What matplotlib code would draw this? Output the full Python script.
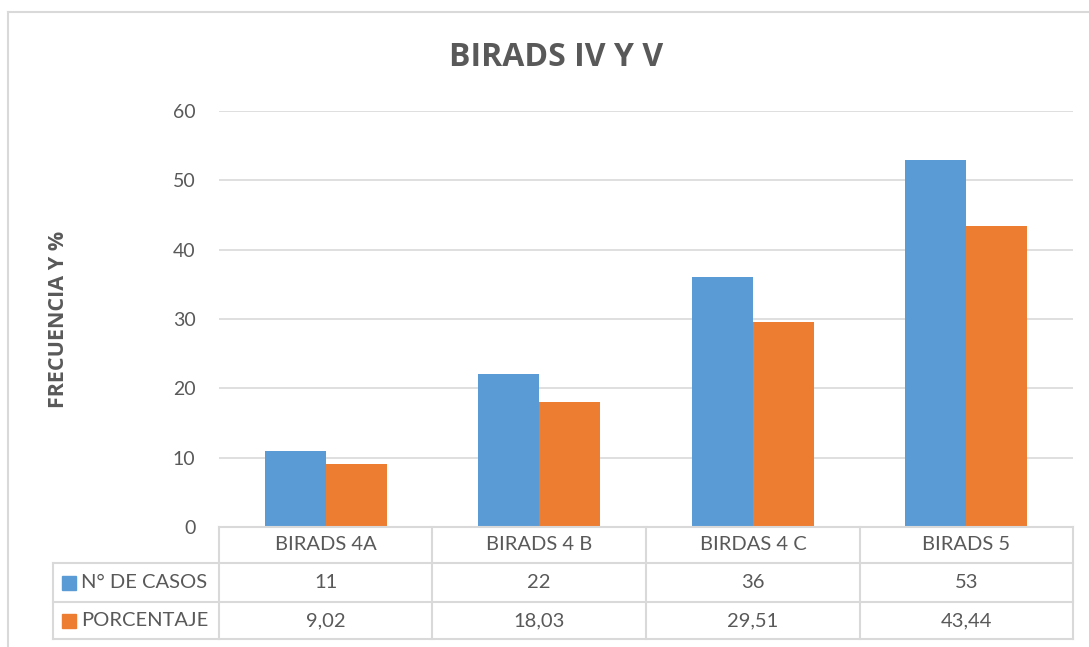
import matplotlib
matplotlib.use('Agg')
import matplotlib.pyplot as plt
from matplotlib.lines import Line2D
from matplotlib.patches import Rectangle
import numpy as np

plt.rcParams['font.family'] = ['Lato', 'DejaVu Sans']

categorias = ['BIRADS 4A', 'BIRADS 4 B', 'BIRDAS 4 C', 'BIRADS 5']
series = ['N° DE CASOS', 'PORCENTAJE']
casos = [11, 22, 36, 53]
porcentaje = [9.02, 18.03, 29.51, 43.44]
etiquetas_casos = ['11', '22', '36', '53']
etiquetas_porc = ['9,02', '18,03', '29,51', '43,44']
colores = ['#5B9BD5', '#ED7D31']
gris = '#595959'
linea = '#D9D9D9'

W, H = 1089, 647
fig = plt.figure(figsize=(W / 100, H / 100), dpi=100)
ax = fig.add_axes([219 / W, 1 - 527 / H, (1073 - 219) / W, (527 - 111) / H])

x = np.arange(len(categorias))
ancho = 0.286
ax.bar(x - ancho / 2, casos, ancho, color=colores[0], zorder=3)
ax.bar(x + ancho / 2, porcentaje, ancho, color=colores[1], zorder=3)

ax.set_xlim(-0.5, len(categorias) - 0.5)
ax.set_ylim(0, 60)
ax.set_yticks(range(0, 61, 10))
ax.yaxis.grid(True, color=linea, linewidth=1.2, zorder=0)
ax.tick_params(axis='y', length=0, pad=17, labelsize=14, labelcolor=gris)
ax.set_xticks([])
for s in ax.spines.values():
    s.set_visible(False)

negrita = ['Open Sans', 'DejaVu Sans']
fig.text(556 / W, 1 - 57 / H, 'BIRADS IV Y V', fontsize=23, fontweight='bold',
         color=gris, ha='center', va='center', family=negrita)
fig.text(59 / W, 1 - 319 / H, 'FRECUENCIA Y %', rotation=90, fontsize=15.5,
         fontweight='bold', color=gris, ha='center', va='center', family=negrita)

# tabla de datos bajo el eje
def fx(px):
    return px / W

def fy(py):
    return 1 - py / H

filas = [527, 563, 602, 639]
bordes = [219, 432, 646, 860, 1073]
for yy in filas:
    x0 = 219 if yy == 527 else 53
    fig.add_artist(Line2D([fx(x0), fx(1073)], [fy(yy), fy(yy)], color=linea, lw=1.5))
for xx in bordes:
    fig.add_artist(Line2D([fx(xx), fx(xx)], [fy(527), fy(639)], color=linea, lw=1.5))
fig.add_artist(Line2D([fx(53), fx(53)], [fy(563), fy(639)], color=linea, lw=1.5))

tam = 14.5
for i, cat in enumerate(categorias):
    cx = (bordes[i] + bordes[i + 1]) / 2
    fig.text(fx(cx), fy((filas[0] + filas[1]) / 2), cat, ha='center', va='center',
             fontsize=tam, color=gris)
    fig.text(fx(cx), fy((filas[1] + filas[2]) / 2), etiquetas_casos[i], ha='center',
             va='center', fontsize=tam, color=gris)
    fig.text(fx(cx), fy((filas[2] + filas[3]) / 2), etiquetas_porc[i], ha='center',
             va='center', fontsize=tam, color=gris)

for j, nombre in enumerate(series):
    cy = (filas[j + 1] + filas[j + 2]) / 2
    fig.add_artist(Rectangle((fx(62), fy(cy + 7)), 14 / W, 14 / H, color=colores[j]))
    fig.text(fx(81), fy(cy), nombre, ha='left', va='center', fontsize=tam, color=gris)

# marco exterior del gráfico
fig.add_artist(Line2D([fx(8), fx(8)], [fy(12), 0], color=linea, lw=1.5))
fig.add_artist(Line2D([fx(8), 1], [fy(12), fy(12)], color=linea, lw=1.5))

fig.savefig('out.png', dpi=100)
